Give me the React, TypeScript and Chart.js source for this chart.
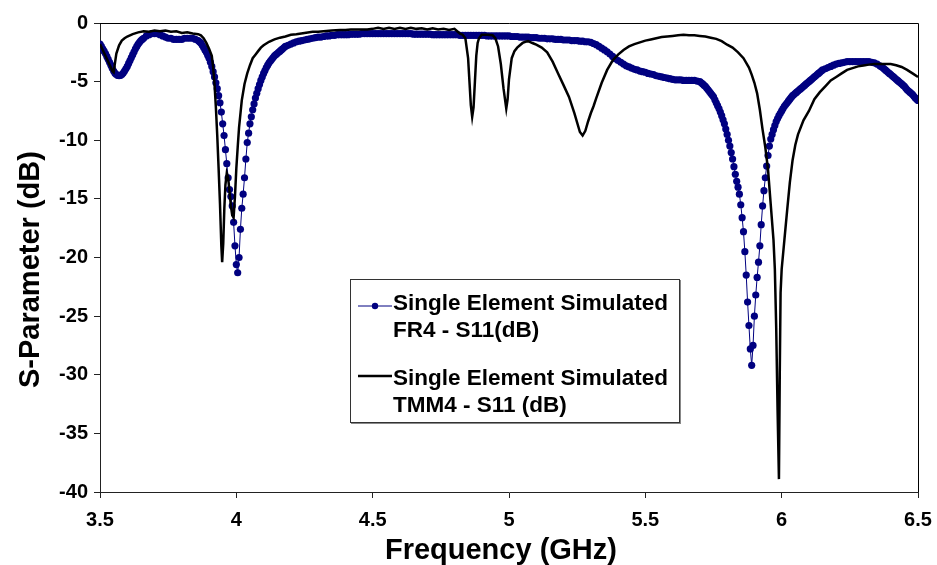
import React, { useEffect, useRef } from "react";
import { Chart, registerables } from "chart.js";

Chart.register(...registerables);

const FONT = "'Liberation Sans', Arial, Helvetica, sans-serif";

// FR4 simulated S11 (dB)
const freqFR4 = [
  3.5, 3.505, 3.51, 3.515, 3.52, 3.525, 3.53, 3.535, 3.54, 3.545,
  3.55, 3.555, 3.56, 3.565, 3.57, 3.575, 3.58, 3.585, 3.59, 3.595,
  3.6, 3.605, 3.61, 3.615, 3.62, 3.625, 3.63, 3.635, 3.64, 3.645,
  3.65, 3.655, 3.66, 3.67, 3.68, 3.69,
  3.7, 3.71, 3.72, 3.73, 3.74, 3.75, 3.76, 3.77, 3.78, 3.79,
  3.8, 3.81, 3.82, 3.83, 3.84, 3.85, 3.86, 3.865, 3.87, 3.875,
  3.88, 3.885, 3.89, 3.895, 3.9, 3.905, 3.91, 3.915, 3.92, 3.925,
  3.93, 3.935, 3.94,
  3.945, 3.95, 3.955, 3.96, 3.965, 3.97, 3.975, 3.98, 3.985, 3.99,
  3.995, 4.0, 4.005, 4.01, 4.015, 4.02, 4.025, 4.03, 4.035, 4.04,
  4.045, 4.05, 4.055, 4.06,
  4.065, 4.07, 4.075, 4.08, 4.085, 4.09, 4.095, 4.1, 4.105, 4.11,
  4.115, 4.12, 4.125, 4.13, 4.135, 4.14, 4.145, 4.15, 4.155, 4.16,
  4.165, 4.17, 4.175, 4.18, 4.19, 4.2, 4.21, 4.22, 4.23, 4.24,
  4.25, 4.26,
  4.27, 4.28, 4.29, 4.3, 4.31, 4.32, 4.33, 4.34, 4.35, 4.36,
  4.37, 4.38, 4.39, 4.4, 4.41, 4.42, 4.43, 4.44, 4.45, 4.46,
  4.47, 4.48, 4.49, 4.5, 4.51, 4.52, 4.53, 4.54, 4.55, 4.56,
  4.57, 4.58, 4.59, 4.6, 4.61, 4.62, 4.63, 4.64, 4.65, 4.66,
  4.67, 4.68, 4.69, 4.7, 4.71, 4.72, 4.73, 4.74, 4.75, 4.76,
  4.77, 4.78, 4.79, 4.8, 4.81, 4.82, 4.83, 4.84, 4.85, 4.86,
  4.87, 4.88, 4.89, 4.9, 4.91, 4.92, 4.93, 4.94, 4.95, 4.96,
  4.97, 4.98, 4.99, 5.0, 5.01, 5.02, 5.03, 5.04, 5.05, 5.06,
  5.07, 5.08, 5.09, 5.1, 5.11, 5.12, 5.13, 5.14, 5.15, 5.16,
  5.17, 5.18, 5.19, 5.2, 5.21, 5.22, 5.23, 5.24, 5.25, 5.26,
  5.27, 5.28, 5.29, 5.3, 5.31, 5.32, 5.33, 5.34, 5.35, 5.36,
  5.37, 5.38, 5.39, 5.4, 5.41, 5.42, 5.43, 5.44, 5.45, 5.46,
  5.47, 5.48, 5.49, 5.5, 5.51, 5.52, 5.53, 5.54, 5.55, 5.56,
  5.57, 5.58, 5.59, 5.6, 5.61, 5.62, 5.63, 5.64, 5.65, 5.66,
  5.67, 5.68, 5.69, 5.7, 5.705, 5.71, 5.715, 5.72, 5.725, 5.73,
  5.735, 5.74, 5.745, 5.75, 5.755, 5.76, 5.765, 5.77, 5.775, 5.78,
  5.785, 5.79, 5.795, 5.8, 5.805, 5.81, 5.815, 5.82, 5.825, 5.83,
  5.835, 5.84, 5.845, 5.85, 5.855, 5.86, 5.865, 5.87, 5.875, 5.88,
  5.885, 5.89, 5.895, 5.9, 5.905, 5.91, 5.915, 5.92, 5.925, 5.93,
  5.935, 5.94, 5.945, 5.95, 5.955, 5.96,
  5.965, 5.97, 5.975, 5.98, 5.985, 5.99, 5.995, 6.0, 6.005, 6.01,
  6.015, 6.02, 6.025, 6.03, 6.035, 6.04, 6.045, 6.05, 6.055, 6.06,
  6.065, 6.07, 6.075, 6.08, 6.085, 6.09, 6.095, 6.1, 6.105, 6.11,
  6.115, 6.12, 6.125, 6.13, 6.135, 6.14, 6.145, 6.15, 6.16,
  6.17, 6.18, 6.19, 6.2, 6.21, 6.22, 6.23, 6.24, 6.25, 6.26,
  6.27, 6.28, 6.29, 6.3, 6.31, 6.32, 6.33, 6.34, 6.35, 6.36,
  6.365, 6.37, 6.375, 6.38, 6.385, 6.39, 6.395, 6.4, 6.405, 6.41,
  6.415, 6.42, 6.425, 6.43, 6.435, 6.44, 6.445, 6.45, 6.455, 6.46,
  6.465, 6.47, 6.475, 6.48, 6.485, 6.49, 6.495, 6.5,
];
const s11FR4 = [
  -1.8, -2.0, -2.2, -2.4, -2.6, -2.85, -3.1, -3.35, -3.6, -3.85,
  -4.1, -4.28, -4.4, -4.47, -4.5, -4.47, -4.4, -4.27, -4.1, -3.9,
  -3.7, -3.45, -3.2, -2.95, -2.7, -2.45, -2.2, -2.0, -1.8, -1.65,
  -1.5, -1.4, -1.3, -1.1, -1.0, -0.9,
  -0.9, -0.9, -1.0, -1.1, -1.2, -1.3, -1.3, -1.4, -1.4, -1.4,
  -1.4, -1.3, -1.3, -1.3, -1.3, -1.4, -1.5, -1.6, -1.7, -1.9,
  -2.1, -2.3, -2.5, -2.75, -3.0, -3.35, -3.7, -4.15, -4.6, -5.1,
  -5.6, -6.2, -6.8,
  -7.6, -8.6, -9.6, -10.8, -12.0, -13.2, -14.2, -14.8, -15.6, -17.0,
  -19.0, -20.6, -21.3, -20.0, -17.6, -15.8, -14.6, -13.2, -11.6, -10.2,
  -9.4, -8.6, -8.0, -7.4,
  -6.9, -6.4, -6.0, -5.6, -5.25, -4.9, -4.6, -4.3, -4.05, -3.8,
  -3.6, -3.4, -3.25, -3.1, -2.95, -2.8, -2.7, -2.6, -2.5, -2.4,
  -2.3, -2.2, -2.1, -2.0, -1.9, -1.8, -1.7, -1.6, -1.55, -1.5,
  -1.45, -1.4,
  -1.35, -1.3, -1.25, -1.2, -1.2, -1.15, -1.1, -1.1, -1.05, -1.05,
  -1.0, -1.0, -1.0, -1.0, -1.0, -0.95, -0.95, -0.95, -0.95, -0.9,
  -0.9, -0.9, -0.9, -0.9, -0.9, -0.9, -0.9, -0.9, -0.9, -0.9,
  -0.9, -0.9, -0.9, -0.9, -0.9, -0.9, -0.9, -0.9, -0.95, -0.95,
  -0.95, -0.95, -0.95, -0.95, -0.95, -1.0, -1.0, -1.0, -1.0, -1.0,
  -1.0, -1.0, -1.0, -1.0, -1.0, -1.05, -1.05, -1.05, -1.05, -1.05,
  -1.05, -1.05, -1.05, -1.05, -1.05, -1.1, -1.1, -1.1, -1.1, -1.1,
  -1.1, -1.1, -1.1, -1.1, -1.15, -1.15, -1.15, -1.2, -1.2, -1.2,
  -1.2, -1.25, -1.25, -1.25, -1.3, -1.3, -1.3, -1.35, -1.35, -1.35,
  -1.4, -1.4, -1.4, -1.45, -1.45, -1.45, -1.5, -1.5, -1.5, -1.55,
  -1.55, -1.6, -1.6, -1.65, -1.75, -1.85, -2.0, -2.15, -2.3, -2.45,
  -2.65, -2.85, -3.05, -3.2, -3.35, -3.5, -3.65, -3.75, -3.85, -3.95,
  -4.0, -4.1, -4.15, -4.2, -4.3, -4.35, -4.4, -4.5, -4.55, -4.6,
  -4.65, -4.7, -4.75, -4.8, -4.85, -4.85, -4.85, -4.9, -4.9, -4.9,
  -4.9, -4.9, -4.95, -5.0, -5.1, -5.2, -5.3, -5.4, -5.55, -5.7,
  -5.85, -6.0, -6.15, -6.3, -6.55, -6.8, -7.05, -7.3, -7.6, -7.9,
  -8.25, -8.6, -9.05, -9.5, -10.0, -10.5, -11.05, -11.6, -12.25, -12.9,
  -13.5, -14.0, -14.6, -15.5, -16.6, -17.8, -19.5, -21.5, -23.8, -25.8,
  -27.8, -29.2, -27.5, -25.0, -23.2, -21.7, -20.4, -19.0, -17.2, -15.6,
  -14.3, -13.2, -12.2, -11.3, -10.5, -9.9,
  -9.5, -9.1, -8.75, -8.4, -8.15, -7.9, -7.7, -7.5, -7.3, -7.1,
  -6.95, -6.8, -6.65, -6.5, -6.35, -6.2, -6.1, -6.0, -5.9, -5.8,
  -5.7, -5.6, -5.5, -5.4, -5.3, -5.2, -5.1, -5.0, -4.9, -4.8,
  -4.7, -4.6, -4.5, -4.4, -4.3, -4.2, -4.1, -4.0, -3.9,
  -3.8, -3.7, -3.6, -3.5, -3.45, -3.4, -3.35, -3.3, -3.3, -3.3,
  -3.3, -3.3, -3.3, -3.3, -3.3, -3.3, -3.35, -3.4, -3.5, -3.65,
  -3.72, -3.8, -3.9, -4.0, -4.1, -4.2, -4.3, -4.4, -4.5, -4.6,
  -4.7, -4.8, -4.9, -5.0, -5.1, -5.2, -5.3, -5.4, -5.55, -5.7,
  -5.8, -5.9, -6.0, -6.1, -6.25, -6.4, -6.5, -6.6,
];

// TMM4 simulated S11 (dB)
const freqTMM4 = [
  3.5, 3.51, 3.52, 3.53, 3.54, 3.545, 3.55, 3.555, 3.56, 3.57,
  3.58, 3.59, 3.6, 3.62, 3.64, 3.66, 3.68, 3.7, 3.72, 3.74,
  3.76, 3.78, 3.8, 3.82, 3.84, 3.86, 3.87, 3.88, 3.89, 3.9,
  3.91, 3.915, 3.92, 3.925, 3.93, 3.935, 3.94, 3.945, 3.948, 3.952,
  3.956, 3.96, 3.965, 3.97, 3.975, 3.98, 3.985, 3.99, 3.995, 4.0,
  4.005, 4.01, 4.02, 4.03, 4.04, 4.05, 4.06, 4.07, 4.08, 4.09,
  4.1, 4.12, 4.14, 4.16, 4.18, 4.2, 4.22, 4.25, 4.28, 4.3,
  4.32, 4.35, 4.38, 4.4, 4.42, 4.45, 4.48, 4.5, 4.52, 4.54,
  4.56, 4.58, 4.6, 4.62, 4.64, 4.66, 4.68, 4.7, 4.72, 4.74,
  4.76, 4.78, 4.8, 4.81, 4.82, 4.83, 4.84, 4.85, 4.855, 4.86,
  4.865, 4.87, 4.875, 4.88, 4.885, 4.89, 4.9, 4.92, 4.94, 4.95,
  4.96, 4.97, 4.98, 4.99, 4.995, 5.0, 5.01, 5.02, 5.03, 5.04,
  5.05, 5.06, 5.07, 5.08, 5.09, 5.1, 5.12, 5.14, 5.16, 5.18,
  5.2, 5.22, 5.24, 5.26, 5.27, 5.28, 5.29, 5.3, 5.31, 5.32,
  5.34, 5.36, 5.38, 5.4, 5.42, 5.44, 5.46, 5.48, 5.5, 5.52,
  5.54, 5.56, 5.58, 5.6, 5.62, 5.64, 5.66, 5.68, 5.7, 5.72,
  5.74, 5.76, 5.78, 5.8, 5.82, 5.84, 5.86, 5.88, 5.89, 5.9,
  5.91, 5.92, 5.93, 5.94, 5.95, 5.96, 5.97, 5.975, 5.98, 5.985,
  5.99, 5.993, 5.996, 6.0, 6.01, 6.02, 6.03, 6.04, 6.05, 6.06,
  6.08, 6.1, 6.12, 6.14, 6.16, 6.18, 6.2, 6.22, 6.24, 6.26,
  6.28, 6.3, 6.32, 6.34, 6.36, 6.38, 6.4, 6.42, 6.44, 6.46,
  6.48, 6.5,
];
const s11TMM4 = [
  -1.8, -2.3, -2.8, -3.3, -3.8, -4.1, -4.2, -3.4, -2.6, -1.9,
  -1.5, -1.3, -1.15, -0.95, -0.8, -0.7, -0.75, -0.65, -0.7, -0.65,
  -0.75, -0.7, -0.85, -0.8, -0.9, -0.95, -1.05, -1.3, -1.7, -2.2,
  -2.8, -3.8, -5.2, -7.2, -9.6, -12.4, -15.4, -19.0, -20.4, -18.8,
  -15.8, -13.8, -12.8, -13.2, -14.4, -15.6, -16.4, -16.6, -14.8, -12.4,
  -10.6, -8.9, -6.6, -5.2, -4.3, -3.6, -3.0, -2.7, -2.4, -2.1,
  -1.9, -1.6, -1.4, -1.25, -1.15, -1.0, -0.95, -0.85, -0.75, -0.75,
  -0.7, -0.65, -0.6, -0.6, -0.55, -0.55, -0.55, -0.5, -0.4, -0.5,
  -0.4, -0.5, -0.4, -0.5, -0.4, -0.5, -0.45, -0.55, -0.45, -0.55,
  -0.5, -0.6, -0.5, -0.7, -0.9, -1.0, -1.3, -3.0, -5.0, -7.0,
  -8.0, -7.2, -5.0, -2.8, -1.7, -1.3, -1.0, -1.0, -1.05, -1.3,
  -2.0, -3.5, -5.6, -7.3, -6.5, -4.8, -3.0, -2.4, -2.1, -1.9,
  -1.7, -1.6, -1.55, -1.65, -1.75, -1.85, -2.1, -2.5, -3.3, -4.3,
  -5.3, -6.3, -7.7, -9.3, -9.6, -9.2, -8.4, -7.7, -7.1, -6.4,
  -5.1, -4.0, -3.2, -2.7, -2.3, -2.0, -1.8, -1.65, -1.5, -1.4,
  -1.3, -1.2, -1.15, -1.1, -1.05, -1.0, -1.05, -1.05, -1.1, -1.15,
  -1.25, -1.35, -1.55, -1.85, -2.1, -2.5, -3.0, -3.8, -4.4, -5.1,
  -6.0, -7.4, -9.1, -10.6, -12.5, -15.5, -18.5, -21.0, -26.0, -33.0,
  -38.9, -30.0, -23.0, -21.0, -18.5, -16.0, -13.6, -11.7, -10.4, -9.5,
  -8.3, -7.5, -6.5, -5.9, -5.4, -4.9, -4.6, -4.3, -4.0, -3.85,
  -3.7, -3.62, -3.55, -3.5, -3.5, -3.5, -3.5, -3.6, -3.75, -4.0,
  -4.3, -4.6,
];

const xTicks = { min: 3.5, max: 6.5, step: 0.5 };
const yTicks = { min: -40, max: 0, step: 5 };

const xTitle = "Frequency (GHz)";
const yTitle = "S-Parameter (dB)";

const seriesLabels = [
  ["Single Element Simulated", "FR4 - S11(dB)"],
  ["Single Element Simulated", "TMM4 - S11 (dB)"],
];

const NAVY = "#000080";

const framePlugin = {
  id: "frame",
  afterDraw(chart: any) {
    const { ctx, chartArea } = chart;
    ctx.save();
    ctx.strokeStyle = "#000";
    ctx.lineWidth = 1;
    ctx.beginPath();
    ctx.moveTo(chartArea.left, chartArea.top + 0.5);
    ctx.lineTo(chartArea.right + 0.5, chartArea.top + 0.5);
    ctx.lineTo(chartArea.right + 0.5, chartArea.bottom);
    ctx.stroke();
    ctx.restore();
  },
};

export default function App() {
  const ref = useRef<HTMLCanvasElement>(null);

  useEffect(() => {
    const fr4 = freqFR4.map((f, i) => ({ x: f, y: s11FR4[i] }));
    const tmm4 = freqTMM4.map((f, i) => ({ x: f, y: s11TMM4[i] }));
    const chart = new Chart(ref.current as HTMLCanvasElement, {
      type: "line",
      data: {
        datasets: [
          {
            label: seriesLabels[0].join(" "),
            data: fr4,
            borderColor: NAVY,
            backgroundColor: NAVY,
            borderWidth: 1,
            pointRadius: 3.6,
            pointBorderWidth: 0,
            pointBackgroundColor: NAVY,
            order: 2,
          },
          {
            label: seriesLabels[1].join(" "),
            data: tmm4,
            borderColor: "#000",
            backgroundColor: "#000",
            borderWidth: 2.5,
            pointRadius: 0,
            order: 1,
          },
        ],
      },
      options: {
        animation: false,
        responsive: true,
        maintainAspectRatio: false,
        layout: { padding: { top: 23, right: 19, left: 0, bottom: 0 } },
        plugins: {
          legend: { display: false },
          tooltip: { enabled: false },
        },
        scales: {
          x: {
            type: "linear",
            min: xTicks.min,
            max: xTicks.max,
            afterFit: (s: any) => {
              s.height = 73;
            },
            ticks: {
              stepSize: xTicks.step,
              color: "#000",
              padding: 4,
              font: { family: FONT, size: 20, weight: "bold", lineHeight: 1.8 },
              callback: (v: any) => String(Number(v)),
            },
            grid: {
              display: true,
              drawOnChartArea: false,
              drawTicks: true,
              tickLength: 6,
              color: "#222",
            },
            border: { display: true, color: "#222", width: 1 },
            title: {
              display: true,
              text: xTitle + "\u00a0\u00a0",
              color: "#000",
              font: { family: FONT, size: 29, weight: "bold", lineHeight: 1 },
              padding: { top: 2, bottom: 0 },
            },
          },
          y: {
            type: "linear",
            min: yTicks.min,
            max: yTicks.max,
            afterFit: (s: any) => {
              s.width = 100;
            },
            ticks: {
              stepSize: yTicks.step,
              color: "#000",
              padding: 6,
              font: { family: FONT, size: 20, weight: "bold" },
            },
            grid: {
              display: true,
              drawOnChartArea: false,
              drawTicks: true,
              tickLength: 6,
              color: "#222",
            },
            border: { display: true, color: "#222", width: 1 },
            title: {
              display: true,
              text: yTitle + "\u00a0\u00a0\u00a0",
              color: "#000",
              font: { family: FONT, size: 29, weight: "bold", lineHeight: 1 },
              padding: { top: 16, bottom: 0 },
            },
          },
        },
      },
      plugins: [framePlugin],
    });
    return () => chart.destroy();
  }, []);

  const textStyle: React.CSSProperties = {
    position: "absolute",
    left: 42,
    fontFamily: FONT,
    fontWeight: "bold",
    fontSize: 22.5,
    lineHeight: "26.5px",
    color: "#000",
    whiteSpace: "nowrap",
  };

  return (
    <div
      style={{
        position: "fixed",
        left: 0,
        top: 0,
        width: 937,
        height: 565,
        background: "#fff",
        overflow: "hidden",
      }}
    >
      <div style={{ position: "absolute", left: 0, top: 0, width: 937, height: 565 }}>
        <canvas ref={ref} />
      </div>
      <div
        style={{
          position: "absolute",
          left: 350,
          top: 279,
          width: 328,
          height: 142,
          border: "1px solid #333",
          boxShadow: "1px 1px 0 #888",
          background: "#fff",
        }}
      >
        <svg
          width={40}
          height={140}
          style={{ position: "absolute", left: 4, top: 0 }}
        >
          <line x1={3} y1={26} x2={37} y2={26} stroke={NAVY} strokeWidth={1} />
          <circle cx={20} cy={26} r={3.2} fill={NAVY} />
          <line x1={3} y1={96} x2={37} y2={96} stroke="#000" strokeWidth={2.5} />
        </svg>
        <div style={{ ...textStyle, top: 10 }}>
          {seriesLabels[0][0]}
          <br />
          {seriesLabels[0][1]}
        </div>
        <div style={{ ...textStyle, top: 85 }}>
          {seriesLabels[1][0]}
          <br />
          {seriesLabels[1][1]}
        </div>
      </div>
    </div>
  );
}
